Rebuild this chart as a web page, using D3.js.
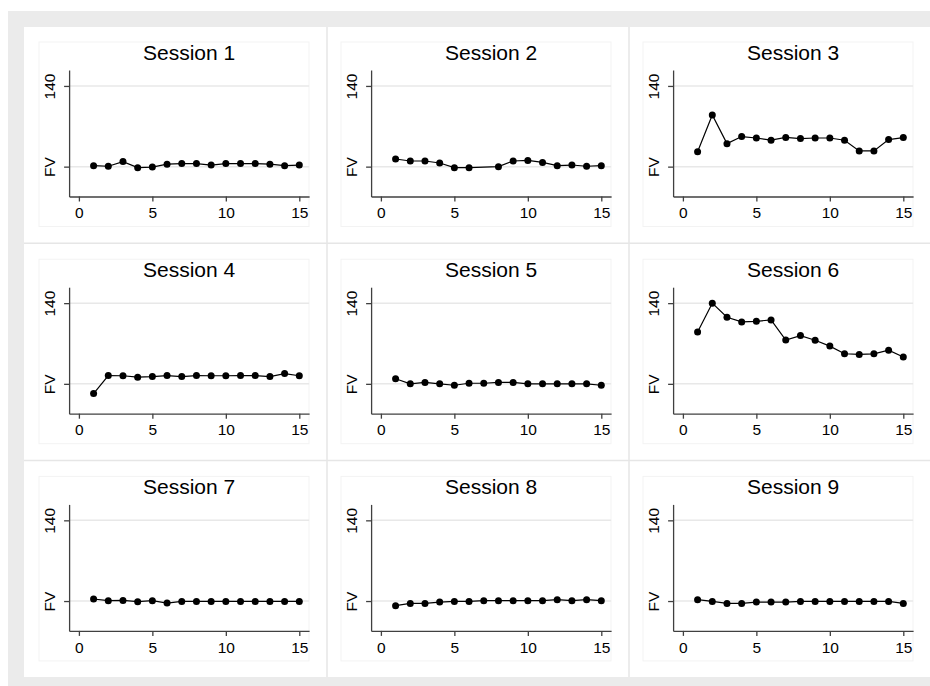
<!DOCTYPE html>
<html><head><meta charset="utf-8">
<script src="https://cdn.jsdelivr.net/npm/d3@7"></script>
<style>body{margin:0;background:#fff}svg{display:block}text{font-family:"Liberation Sans",Arial,sans-serif;fill:#000}</style>
</head><body><svg id="c" width="930" height="686"></svg>
<script>
const sessions = ["Session 1","Session 2","Session 3","Session 4","Session 5","Session 6","Session 7","Session 8","Session 9"];
const periods = [1,2,3,4,5,6,7,8,9,10,11,12,13,14,15];
const xTicks = [0,5,10,15];
const yTicks = [100,140];
const yTickLabels = ["FV","140"];
const s1 = [100.5,100.2,102.5,99.5,99.8,101.2,101.5,101.5,100.8,101.5,101.5,101.5,101.2,100.5,100.8];
const s2 = [103.8,102.8,102.8,101.8,99.5,99.5,null,100,102.8,103.1,102.1,100.5,100.8,100.2,100.5];
const s3 = [107.4,125.6,111.4,114.9,114.2,113.1,114.5,113.9,114.2,114.2,113.1,107.8,107.8,113.4,114.4];
const s4 = [95.2,104.1,104.0,103.3,103.6,104.1,103.6,104.1,104.0,104.0,104.1,104.1,103.6,105.1,104.0];
const s5 = [102.5,100,100.7,100,99.3,100.3,100.3,100.7,100.7,100,100,100,100,100,99.3];
const s6 = [125.7,140,133.0,130.7,131.0,131.7,121.7,123.9,121.6,118.7,114.9,114.6,114.9,116.7,113.3];
const s7 = [101.0,100.2,100.3,99.7,100.2,99.0,99.8,99.8,99.8,99.8,99.8,99.8,99.8,99.8,99.8];
const s8 = [97.7,98.8,98.8,99.5,99.8,99.8,100.2,100.2,100.2,100.2,100.2,100.7,100.2,100.7,100.2];
const s9 = [100.7,99.8,98.8,98.8,99.5,99.5,99.5,99.8,99.8,99.8,99.8,99.8,99.8,99.8,98.8];
const series = [s1,s2,s3,s4,s5,s6,s7,s8,s9];

const svg = d3.select("#c");
svg.append("rect").attr("x",8).attr("y",11).attr("width",922).attr("height",675).attr("fill","#ebebeb");
svg.append("rect").attr("x",24).attr("y",27).attr("width",906).attr("height",650).attr("fill","#fff");

const cellW = 302, cellH = 217.2, ox = 23.5, oy = 26;
[1,2].forEach(i=>{
  svg.append("line").attr("x1",ox+i*cellW+1.5).attr("x2",ox+i*cellW+1.5).attr("y1",27).attr("y2",677).attr("stroke","#e6e6e6").attr("stroke-width",1.5);
  svg.append("line").attr("x1",24).attr("x2",930).attr("y1",oy+i*cellH).attr("y2",oy+i*cellH).attr("stroke","#e6e6e6").attr("stroke-width",1.5);
});

const x = d3.scaleLinear().domain([-0.667,15.667]).range([45.6,285.6]);
const y = d3.scaleLinear().domain([85.2,147.9]).range([170.5,44]);

sessions.forEach((name,i)=>{
  const r = Math.floor(i/3), c = i%3;
  const g = svg.append("g").attr("transform",`translate(${ox+c*cellW},${oy+r*cellH})`);
  g.append("rect").attr("x",15.5).attr("y",16).attr("width",270).attr("height",184.5)
    .attr("fill","none").attr("stroke","#f3f3f3").attr("stroke-width",1);
  g.selectAll(".grid").data(yTicks).join("line")
    .attr("x1",x.range()[0]).attr("x2",x.range()[1])
    .attr("y1",d=>y(d)).attr("y2",d=>y(d)).attr("stroke","#e8e8e8").attr("stroke-width",1.5);
  g.append("text").attr("x",(x.range()[0]+x.range()[1])/2).attr("y",34)
    .attr("text-anchor","middle").attr("font-size",21).text(name);
  const ya = g.append("g").attr("transform",`translate(${x.range()[0]},0)`)
    .call(d3.axisLeft(y).tickValues(yTicks).tickSize(5).tickSizeOuter(0).tickFormat((d,k)=>yTickLabels[k]));
  ya.selectAll("text").attr("x",null).attr("dy",null).attr("y",-14.1)
    .attr("transform","rotate(-90)").attr("text-anchor","middle").attr("font-size",15.5)
    .style("font-family",'"Liberation Sans",Arial,sans-serif').attr("fill","#000");
  const xa = g.append("g").attr("transform",`translate(0,${y.range()[0]})`)
    .call(d3.axisBottom(x).tickValues(xTicks).tickSize(5).tickSizeOuter(0));
  xa.selectAll("text").attr("y",21.8).attr("dy",null).attr("font-size",15.5)
    .style("font-family",'"Liberation Sans",Arial,sans-serif').attr("fill","#000");
  [ya,xa].forEach(a=>{a.selectAll("path,line").attr("stroke","#404040").attr("stroke-width",1.3);});
  const pts = periods.map((p,k)=>({p, v:series[i][k]})).filter(d=>d.v!==null);
  g.append("path").datum(pts).attr("fill","none").attr("stroke","#000").attr("stroke-width",1.2)
    .attr("d",d3.line().x(d=>x(d.p)).y(d=>y(d.v)));
  g.selectAll(".pt").data(pts).join("circle").attr("cx",d=>x(d.p)).attr("cy",d=>y(d.v))
    .attr("r",3.5).attr("fill","#000");
});
</script></body></html>
